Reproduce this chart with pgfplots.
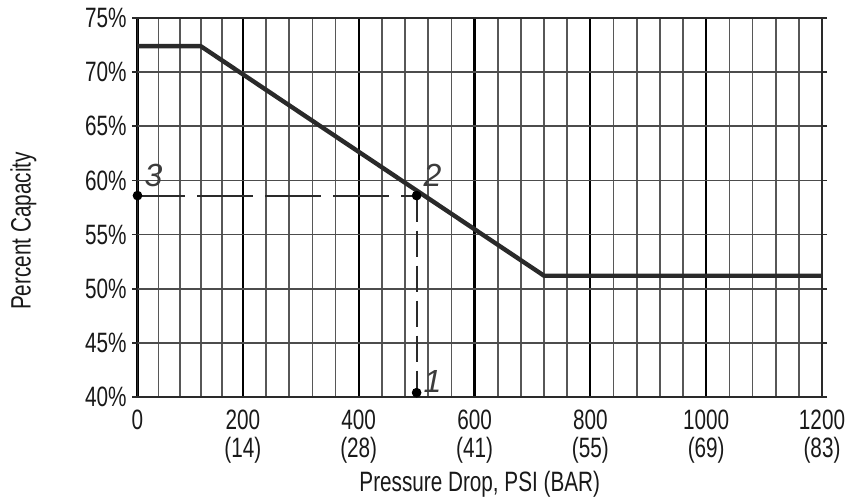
\documentclass[border=0pt]{standalone}
\usepackage{fontspec}
\setmainfont{Liberation Sans}[FakeStretch=0.74]
\newfontfamily\numfont{Liberation Sans}
\usepackage{pgfplots}
\pgfplotsset{compat=1.18}
\definecolor{ink}{HTML}{2A2A2A}
\definecolor{gridmin}{HTML}{575757}
\definecolor{gridh}{HTML}{4C4C4C}
\definecolor{numc}{HTML}{3C3C3C}

\begin{document}
\begin{tikzpicture}
\begin{axis}[
  scale only axis, width=342.25pt, height=189.5pt,
  xmin=0, xmax=1200, ymin=40, ymax=75,
  % the printed chart squeezes the first 200 psi a little
  x coord trafo/.code={\pgfmathparse{(#1<=200)*(#1*0.91)+(#1>200)*(#1-18)}},
  xtick={0,200,...,1200},
  xticklabels={0,200\\(14),400\\(28),600\\(41),800\\(55),1000\\(69),1200\\(83)},
  minor xtick={40,80,120,160,240,280,320,360,440,480,520,560,640,680,720,760,
    840,880,920,960,1040,1080,1120,1160},
  ytick={40,45,...,75},
  yticklabels={40\%,45\%,50\%,55\%,60\%,65\%,70\%,75\%},
  xmajorgrids, xminorgrids, ymajorgrids,
  major x grid style={black, line width=1.1pt},
  minor x grid style={gridmin, line width=0.85pt},
  major y grid style={gridh, line width=0.85pt},
  tick align=outside,
  major tick length=2.5pt, minor tick length=0pt,
  xtick style={draw=none},
  ytick style={ink, line width=0.85pt},
  axis line style={ink, line width=0.9pt},
  /pgf/number format/assume math mode=true,
  tick label style={font=\fontsize{14}{14}\selectfont, text=black!90},
  xticklabel style={align=center, inner ysep=4pt},
  yticklabel style={inner xsep=2.75pt},
  label style={font=\fontsize{14}{14}\selectfont, text=black!90},
  xlabel={Pressure Drop, PSI (BAR)},
  ylabel={Percent Capacity},
  x label style={at={([yshift=-47pt]axis description cs:0.5,0)}, anchor=base},
  y label style={at={([xshift=-57pt]axis description cs:0,0.438)}, anchor=center},
  clip=false,
]
\addplot[ink, line width=2.2pt, line join=round] coordinates {(0,72.4) (120,72.4) (720,51.2) (1200,51.2)};
\addplot[ink, line width=1pt, dash pattern=on 28pt off 6pt, dash phase=4.25pt] coordinates {(0,58.6) (500,58.6)};
\addplot[ink, line width=1pt, dash pattern=on 13pt off 4.5pt] coordinates {(500,58.6) (500,40.4)};
\addplot[only marks, mark=*, mark size=2.2pt, black,
  nodes near coords, point meta=explicit symbolic,
  every node near coord/.style={anchor=center, xshift=8pt, yshift=10.25pt,
    font=\numfont\itshape\fontsize{16}{16}\selectfont, text=numc}]
  coordinates {(0,58.6)[3] (500,58.6)[2]};
\addplot[only marks, mark=*, mark size=2.2pt, black,
  nodes near coords, point meta=explicit symbolic,
  every node near coord/.style={anchor=center, xshift=8pt, yshift=5.5pt,
    font=\numfont\itshape\fontsize{16}{16}\selectfont, text=numc}]
  coordinates {(500,40.4)[1]};
\coordinate (bl) at (rel axis cs:0,0);
\coordinate (tr) at (rel axis cs:1,1);
\end{axis}
\pgfresetboundingbox
\path ([shift={(-68.75pt,-50pt)}]bl) rectangle ([shift={(13pt,9pt)}]tr);
\end{tikzpicture}
\end{document}
